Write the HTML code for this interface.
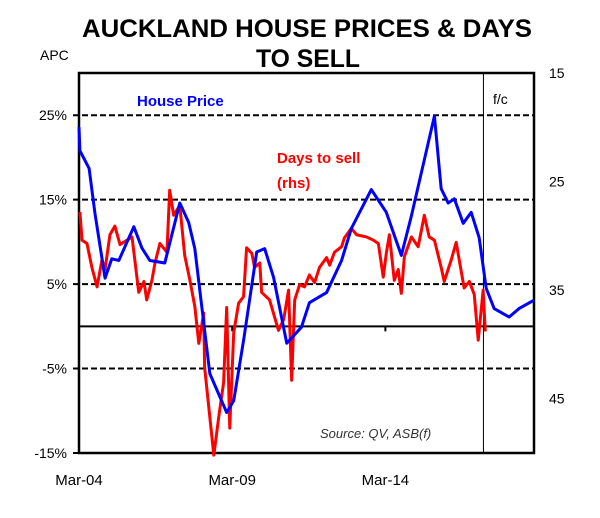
<!DOCTYPE html>
<html><head><meta charset="utf-8"><style>
html,body{margin:0;padding:0;background:#fff;}
svg{display:block;font-family:"Liberation Sans",Arial,sans-serif;}
</style></head><body>
<svg id="chart" width="600" height="518" viewBox="0 0 600 518">
<text x="307" y="37" text-anchor="middle" font-size="25" font-weight="bold" textLength="450" lengthAdjust="spacingAndGlyphs">AUCKLAND  HOUSE  PRICES  &amp; DAYS</text>
<text x="308" y="67" text-anchor="middle" font-size="25" font-weight="bold" textLength="104" lengthAdjust="spacingAndGlyphs">TO SELL</text>
<text x="40" y="60" font-size="14">APC</text>
<g id="grid"></g>
<g id="axes"></g>
<g id="series"></g>
<text x="137" y="106" font-size="15" font-weight="bold" fill="#0000ff">House Price</text>
<text x="277" y="163" font-size="15" font-weight="bold" fill="#ff0000">Days to sell</text>
<text x="277" y="188" font-size="15" font-weight="bold" fill="#ff0000">(rhs)</text>
<text x="493" y="104" font-size="14">f/c</text>
<text x="320" y="438" font-size="13" font-style="italic" fill="#333">Source:  QV,  ASB(f)</text>
</svg>
<script>
const leftTicks = [25, 15, 5, -5, -15];
const rightTicks = [15, 25, 35, 45];
const xTickYears = [0, 5, 10];
const xTickLabels = ["Mar-04", "Mar-09", "Mar-14"];
const forecastYear = 13.2;
const priceYears = [0,0.03,0.33,0.52,0.85,1.07,1.30,1.79,2.05,2.31,2.80,3.29,3.58,3.78,4.27,4.82,5.05,5.37,5.80,6.06,6.35,6.78,7.26,7.52,8.08,8.57,8.89,9.54,10.03,10.52,10.85,11.60,11.82,12.05,12.25,12.54,12.80,13.06,13.29,13.55,14.04,14.36,14.85];
const priceValues = [23.6,20.8,18.7,13.4,5.7,8.0,7.8,11.8,9.3,7.8,7.5,14.6,12.3,9.2,-5.6,-10.2,-8.8,-1.7,8.8,9.2,5.8,-2.0,-0.1,2.8,4.0,7.8,11.6,16.2,13.5,8.4,13.1,24.9,16.3,14.6,15.1,12.2,13.5,10.5,4.5,2.1,1.1,2.1,3.1];
const daysYears = [0.03,0.10,0.26,0.42,0.59,0.75,0.85,1.01,1.17,1.34,1.56,1.73,1.95,2.12,2.21,2.38,2.48,2.64,2.87,2.96,3.09,3.29,3.45,3.62,3.78,3.91,4.07,4.10,4.27,4.40,4.56,4.72,4.82,4.92,5.05,5.21,5.37,5.47,5.64,5.73,5.90,5.96,6.22,6.51,6.68,6.84,6.94,7.04,7.20,7.36,7.52,7.69,7.85,8.08,8.18,8.34,8.57,8.66,8.89,9.06,9.38,9.61,9.77,9.93,10.03,10.13,10.29,10.42,10.52,10.62,10.85,11.07,11.27,11.43,11.60,11.82,11.92,12.15,12.31,12.57,12.74,12.90,13.03,13.19,13.26];
const daysValues = [27.8,30.4,30.7,32.9,34.7,32.2,33.1,29.9,29.1,30.8,30.4,30.1,35.2,34.2,35.9,34.1,32.5,30.7,31.5,25.8,28.1,27.2,31.8,34.1,36.5,39.9,37.1,42.1,46.7,50.2,46.7,43.5,36.6,47.7,38.9,36.2,35.6,31.1,31.6,32.9,32.5,35.2,35.9,38.7,37.7,35.0,43.3,35.9,34.5,34.7,33.6,34.3,32.9,32.0,32.7,31.5,31.0,30.2,29.3,29.9,30.1,30.4,30.7,33.8,31.6,29.9,34.1,33.1,35.3,31.9,30.1,31.0,28.1,30.1,30.4,32.9,34.2,32.2,30.6,34.8,34.2,35.4,39.6,35.0,38.8];

const NS = "http://www.w3.org/2000/svg";
const L = 79, R = 534, T = 73, B = 453;
const xMin = 0, xMax = 14.85;
const yMin = -15, yMax = 30;
const dMin = 15, dMax = 50;
const xs = v => L + (v - xMin) / (xMax - xMin) * (R - L);
const yl = v => B - (v - yMin) / (yMax - yMin) * (B - T);
const yr = v => T + (v - dMin) / (dMax - dMin) * (B - T);
function mk(tag, attrs, parent) {
  const e = document.createElementNS(NS, tag);
  for (const k in attrs) e.setAttribute(k, attrs[k]);
  parent.appendChild(e);
  return e;
}
const grid = document.getElementById("grid");
const axes = document.getElementById("axes");
const series = document.getElementById("series");

leftTicks.forEach(v => {
  const g = mk("line", {x1: L - 6, x2: R, y1: yl(v), y2: yl(v), stroke: "#000", "stroke-width": 2, "stroke-dasharray": "6,3"}, grid);
  
  
  const t = mk("text", {x: 67, y: yl(v) + 5, "text-anchor": "end", "font-size": 14}, axes);
  t.textContent = v + "%";
  
  
});
const zero = mk("line", {x1: L, x2: R, y1: yl(0), y2: yl(0), stroke: "#000", "stroke-width": 2}, grid);



rightTicks.forEach(v => {
  const t = mk("text", {x: 549, y: yr(v) + 5, "font-size": 14}, axes);
  t.textContent = v;
  
  
});

xTickYears.forEach((v, i) => {
  const tk = mk("line", {x1: xs(v), x2: xs(v), y1: yl(0), y2: yl(0) + 5, stroke: "#000", "stroke-width": 2}, axes);
  
  
  const t = mk("text", {x: xs(v), y: 485, "text-anchor": "middle", "font-size": 15}, axes);
  t.textContent = xTickLabels[i];
  
  
});

const fc = mk("line", {x1: xs(forecastYear), x2: xs(forecastYear), y1: T, y2: B, stroke: "#000", "stroke-width": 1}, axes);


const box = mk("rect", {x: L, y: T, width: R - L, height: B - T, fill: "none", stroke: "#000", "stroke-width": 2.5}, axes);



const red = mk("polyline", {points: daysYears.map((x, i) => xs(x) + "," + yr(daysValues[i])).join(" "), fill: "none", stroke: "#ff0000", "stroke-width": 3, "stroke-linejoin": "round"}, series);


const blue = mk("polyline", {points: priceYears.map((x, i) => xs(x) + "," + yl(priceValues[i])).join(" "), fill: "none", stroke: "#0000ff", "stroke-width": 3, "stroke-linejoin": "round"}, series);


</script>
</body></html>
